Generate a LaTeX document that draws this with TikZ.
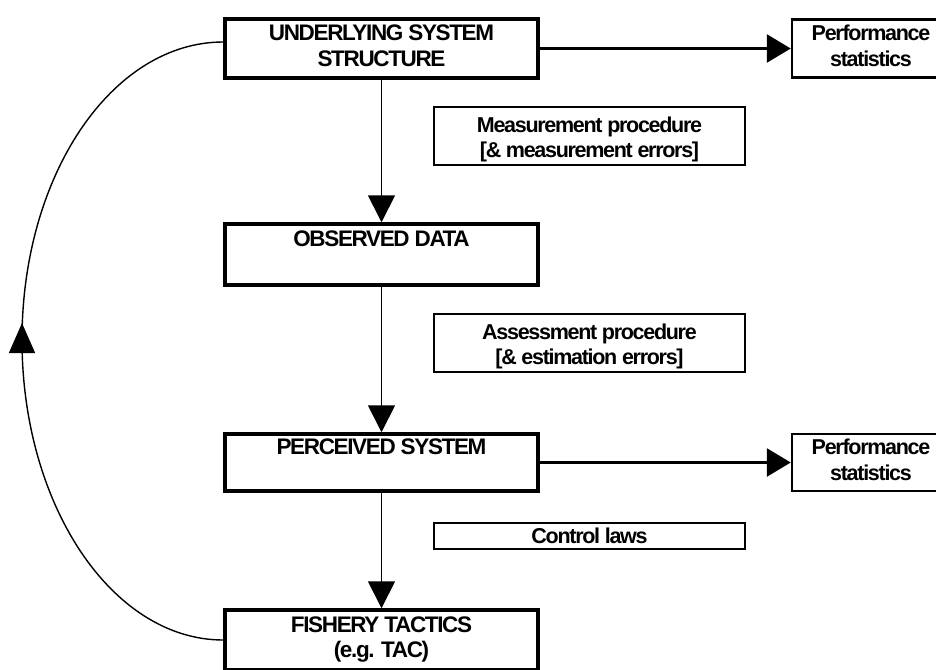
\documentclass[tikz,border=0pt]{standalone}
\usepackage{fontspec}
\newfontfamily\dfont{Liberation Sans Bold}[LetterSpace=-6]
\usetikzlibrary{arrows.meta,calc}
\newcommand\dropby[2]{\raisebox{-#1}[\height][\depth]{#2}}
\tikzset{
  txt/.style={font=\dfont\fontsize{21.5pt}{25.5pt}\selectfont, align=center, inner sep=0pt},
  mainbox/.style={txt, font=\dfont\fontsize{22.5pt}{25.5pt}\selectfont, draw, line width=3.5pt, minimum width=313pt},
  perfbox/.style={txt, draw, line width=2.5pt, minimum width=158pt},
  notebox/.style={txt, draw, line width=2.2pt, minimum width=311pt},
  vline/.style={line width=1.8pt, -{Triangle[length=27pt,width=27pt]}},
  hline/.style={line width=3pt, -{Triangle[length=24pt,width=28pt]}},
  curve/.style={line width=1.4pt}
}
\begin{document}
\begin{tikzpicture}[x=1pt,y=-1pt]
\useasboundingbox (0,0) rectangle (936,669);
\clip (0,0) rectangle (936,669);
\fill[white] (0,0) rectangle (936,669);
% main boxes
\node[mainbox, minimum height=59pt] (u) at (381.5,48.5) {\strut UNDERLYING SYSTEM\\\strut STRUCTURE};
\node[mainbox, minimum height=61pt] (o) at (381.5,254.5) {\strut OBSERVED DATA\\\strut};
\node[mainbox, minimum height=57pt] (p) at (381.5,462.5) {\strut PERCEIVED SYSTEM\\\strut};
\node[mainbox, minimum height=60pt] (f) at (381.5,640) {\strut FISHERY TACTICS\\\strut (e.g. TAC)};
% performance boxes
\node[perfbox, minimum height=58pt] (pt) at (871,48.5) {\strut Performance\\\strut statistics};
\node[perfbox, minimum height=57pt] (pb) at (871,462.5) {\strut Performance\\\strut statistics};
% note boxes
\node[notebox, minimum height=58pt] (m) at (589.5,136) {\dropby{4pt}{\begin{tabular}{@{}c@{}}\strut Measurement procedure\\\strut{[}\& measurement errors{]}\end{tabular}}};
\node[notebox, minimum height=58pt] (a) at (589.5,343) {\dropby{4pt}{\begin{tabular}{@{}c@{}}\strut Assessment procedure\\\strut{[}\& estimation errors{]}\end{tabular}}};
\node[notebox, minimum height=26pt] (c) at (589.5,536) {Control laws};
% connectors
\draw[vline] (u) -- (o);
\draw[vline] (o) -- (p);
\draw[vline] (p) -- (f);
\draw[hline] (u) -- (pt);
\draw[hline] (p) -- (pb);
% feedback curve
\coordinate (cm) at (22,340);
\coordinate (tip) at (22,323);
\coordinate (uw) at ($(u.west)+(0,-6.5)$);
\draw[curve, -{Triangle[length=30pt,width=26pt]}] (f.west) .. controls (112,640) and (22,505) .. (cm) -- (tip);
\draw[curve] (cm) .. controls (22,175) and (112,42) .. (uw);
\end{tikzpicture}
\end{document}
